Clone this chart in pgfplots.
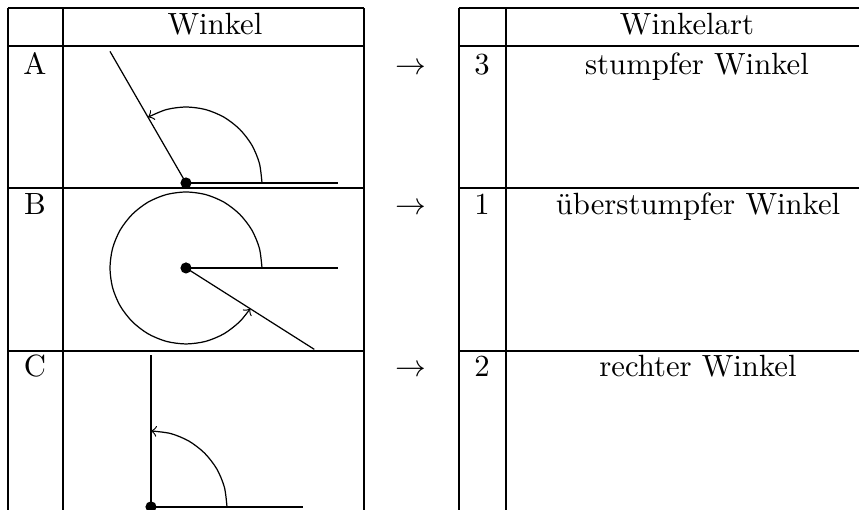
\documentclass[border=0pt]{standalone}
\usepackage{pgfplots}
\pgfplotsset{compat=1.18}

% positions are read in pixels of the 859x510 reference, y running down
\begin{document}
\begin{tikzpicture}
\begin{axis}[
    scale only axis,
    width=279.8pt, height=166.1pt,
    xmin=0, xmax=859, ymin=0, ymax=510,
    y dir=reverse,
    hide axis,
    clip=true,
    clip marker paths=true,
    every axis plot/.append style={black, line width=0.4pt},
]
% table rules, left table
\addplot[no marks] coordinates {(8,8) (364,8)};
\addplot[no marks] coordinates {(8,46) (364,46)};
\addplot[no marks] coordinates {(8,188) (364,188)};
\addplot[no marks] coordinates {(8,351) (364,351)};
\addplot[no marks] coordinates {(8,8) (8,510)};
\addplot[no marks] coordinates {(63,8) (63,510)};
\addplot[no marks] coordinates {(364,8) (364,510)};
% table rules, right table
\addplot[no marks] coordinates {(459,8) (859,8)};
\addplot[no marks] coordinates {(459,46) (859,46)};
\addplot[no marks] coordinates {(459,188) (859,188)};
\addplot[no marks] coordinates {(459,351) (859,351)};
\addplot[no marks] coordinates {(459,8) (459,510)};
\addplot[no marks] coordinates {(506,8) (506,510)};

% A: 120 degrees
\addplot[no marks] coordinates {(186,183) (338,183)};
\addplot[no marks] coordinates {(186,183) (110,51.4)};
\addplot[no marks, smooth, ->] coordinates {
    (262,183) (259.4,163.3) (251.8,145) (239.7,129.3) (224,117.2)
    (205.7,109.6) (186,107) (166.3,109.6) (148,117.2)
};
\addplot[only marks, mark=*, mark size=1.6pt] coordinates {(186,183)};

% B: reflex angle
\addplot[no marks] coordinates {(186,268) (338,268)};
\addplot[no marks] coordinates {(186,268) (314.3,349.4)};
\addplot[no marks, smooth, ->] coordinates {
    (262,268) (259.4,248.3) (251.8,230) (239.7,214.3) (224,202.2)
    (205.7,194.6) (186,192) (166.3,194.6) (148,202.2) (132.3,214.3)
    (120.2,230) (112.6,248.3) (110,268) (112.6,287.7) (120.2,306)
    (132.3,321.7) (148,333.8) (166.3,341.4) (186,344) (205.7,341.4)
    (224,333.8) (239.7,321.7) (250.2,308.7)
};
\addplot[only marks, mark=*, mark size=1.6pt] coordinates {(186,268)};

% C: right angle
\addplot[no marks] coordinates {(151,507) (303,507)};
\addplot[no marks] coordinates {(151,507) (151,355)};
\addplot[no marks, smooth, ->] coordinates {
    (227,507) (224.4,487.3) (216.8,469) (204.7,453.3) (189,441.2)
    (170.7,433.6) (151,431)
};
\addplot[only marks, mark=*, mark size=1.6pt] coordinates {(151,507)};

% texts
\node[anchor=base] at (axis cs:215,35) {Winkel};
\node[anchor=base] at (axis cs:687,35) {Winkelart};
\node[anchor=base] at (axis cs:35,75) {A};
\node[anchor=base] at (axis cs:35,215) {B};
\node[anchor=base] at (axis cs:35,377) {C};
\node[anchor=base] at (axis cs:411,75) {$\rightarrow$};
\node[anchor=base] at (axis cs:411,215) {$\rightarrow$};
\node[anchor=base] at (axis cs:411,377) {$\rightarrow$};
\node[anchor=base] at (axis cs:482,75) {3};
\node[anchor=base] at (axis cs:482,215) {1};
\node[anchor=base] at (axis cs:482,377) {2};
\node[anchor=base] at (axis cs:697,75) {stumpfer Winkel};
\node[anchor=base] at (axis cs:698,215) {überstumpfer Winkel};
\node[anchor=base] at (axis cs:698,377) {rechter Winkel};
\end{axis}
\pgfresetboundingbox
\useasboundingbox (current axis.south west) rectangle (current axis.north east);
\end{tikzpicture}
\end{document}
